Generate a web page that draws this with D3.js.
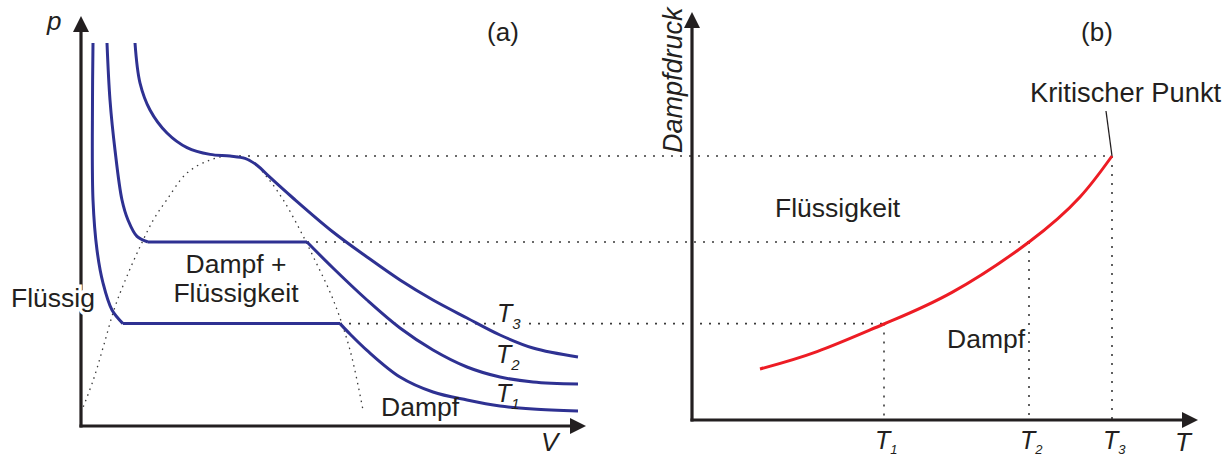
<!DOCTYPE html>
<html>
<head>
<meta charset="utf-8">
<script src="https://cdn.jsdelivr.net/npm/d3@7"></script>
<style>
body { margin: 0; background: #fff; }
text { font-family: "Liberation Sans", Arial, sans-serif; fill: #231f20; }
</style>
</head>
<body>
<svg id="chart" width="1230" height="459"></svg>
<script>
// isotherms in the p-V diagram, [V, p] (arbitrary units 0..100)
const isoT1 = [[2.2, 95.75], [2.1, 81.5], [2.2, 56.5], [3.0, 44], [4.2, 35.75], [6.0, 29], [8.2, 25.6],
    [51.6, 25.6], [53.6, 23], [57, 18.9], [63.6, 12.25], [70.2, 8.5], [77, 6.5], [83.6, 5], [90.2, 4.25], [99.2, 3.75]];
const isoT2 = [[5, 95.75], [5.6, 81.5], [6.6, 69], [8, 56.5], [9.2, 51.5], [11, 47.4], [13.2, 46],
    [45, 46], [50.2, 39.5], [57, 31.5], [63.6, 24.5], [70.2, 19], [77, 14.75], [83.6, 12.25], [90.2, 11], [99.2, 10.5]];
const isoT3 = [[10.6, 95.75], [11.6, 85.75], [13.6, 79], [17, 73.25], [21, 69.6], [25.6, 67.9], [29.6, 67.5],
    [32.6, 66.9], [35, 65.2], [37.4, 62.4], [42.2, 57], [50.2, 48.5], [57, 42.25], [63.6, 36.5], [70.2, 31.5], [77, 27],
    [83.6, 22.75], [90.2, 19.5], [99.2, 17.25]];
// two-phase dome
const dome = [[0.26, 4.8], [2.26, 11.5], [4.26, 19.8], [6.6, 29.8], [8.94, 37.3], [11.6, 44.8], [14.26, 51.5],
    [16.94, 56.5], [20.94, 63.2], [25.6, 66.5], [29.6, 67.5], [33.6, 66.5], [36.94, 62.3], [40.26, 56.5],
    [43.6, 49], [46.26, 42.3], [50.26, 31.5], [53.6, 19], [56.26, 3.6]];

// saturation pressure for T1, T2, T3 and the V where each plateau ends
const satPressure = [25.6, 46, 67.5];
const plateauEnd = [51.6, 45, 29.6];
// temperatures on the right diagram
const tempValues = [38.4, 67.4, 84];
const tempNames = ["1", "2", "3"];
// vapour pressure curve [T, p]
const vaporCurve = [[13.6, 14.25], [25, 18.6], [38.4, 25.5], [52, 33.4], [67.4, 46], [77.6, 57.25], [84, 67.5]];

const svg = d3.select("#chart");
const ink = "#231f20";

const xV = d3.scaleLinear().domain([0, 100]).range([82, 582]);
const xT = d3.scaleLinear().domain([0, 100]).range([692, 1192]);
const yP = d3.scaleLinear().domain([0, 100]).range([426, 26]);
const rightBase = yP(1.5);

const curve = d3.curveCatmullRom.alpha(0.5);
const lineV = d3.line().x(d => xV(d[0])).y(d => yP(d[1])).curve(curve);
const lineT = d3.line().x(d => xT(d[0])).y(d => yP(d[1])).curve(d3.curveNatural);

// dotted guides
const guides = svg.append("g")
    .attr("stroke", "#3a3a3a")
    .attr("stroke-width", 1.6)
    .attr("stroke-dasharray", "2,7")
    .attr("fill", "none");

satPressure.forEach((p, i) => {
    guides.append("line")
        .attr("x1", xV(plateauEnd[i])).attr("x2", xT(tempValues[i]))
        .attr("y1", yP(p)).attr("y2", yP(p));
    guides.append("line")
        .attr("x1", xT(tempValues[i])).attr("x2", xT(tempValues[i]))
        .attr("y1", yP(p)).attr("y2", rightBase);
});

svg.append("path")
    .attr("d", lineV(dome))
    .attr("fill", "none")
    .attr("stroke", "#3a3a3a")
    .attr("stroke-width", 1.3)
    .attr("stroke-dasharray", "1.5,4.5");

// split an isotherm into liquid branch, plateau and vapour branch
function pieces(pts) {
    for (let i = 0; i < pts.length - 1; i++) {
        if (pts[i][1] === pts[i + 1][1]) {
            return [pts.slice(0, i + 1), pts.slice(i, i + 2), pts.slice(i + 1)];
        }
    }
    return [pts];
}

const isoG = svg.append("g")
    .attr("fill", "none")
    .attr("stroke", "#2e3192")
    .attr("stroke-width", 3)
    .attr("stroke-linejoin", "round");

[isoT1, isoT2, isoT3].forEach(iso => {
    const parts = pieces(iso);
    isoG.append("path").attr("d", parts.map(p => lineV(p)).join(""));
});

svg.append("path")
    .attr("d", lineT(vaporCurve))
    .attr("fill", "none")
    .attr("stroke", "#ed1c24")
    .attr("stroke-width", 3);

// leader to critical point
const crit = vaporCurve[vaporCurve.length - 1];
svg.append("line")
    .attr("x1", xT(crit[0]) - 6).attr("y1", 111)
    .attr("x2", xT(crit[0])).attr("y2", yP(crit[1]))
    .attr("stroke", ink).attr("stroke-width", 1.3);

// axes with arrowheads
function axis(x0, y0, x1, y1) {
    const ang = Math.atan2(y1 - y0, x1 - x0);
    const len = 16, half = 8;
    const bx = x1 - len * Math.cos(ang), by = y1 - len * Math.sin(ang);
    svg.append("line")
        .attr("x1", x0).attr("y1", y0).attr("x2", bx + 2 * Math.cos(ang)).attr("y2", by + 2 * Math.sin(ang))
        .attr("stroke", ink).attr("stroke-width", 3.2);
    svg.append("path")
        .attr("d", `M${x1},${y1}L${bx - half * Math.sin(ang)},${by + half * Math.cos(ang)}L${bx + half * Math.sin(ang)},${by - half * Math.cos(ang)}Z`)
        .attr("fill", ink);
}
axis(xV(0) - 1, yP(0) + 1.5, xV(0) - 1, 16);
axis(xV(0) - 2.5, yP(0), 586, yP(0));
axis(xT(0), rightBase + 1.5, xT(0), 12);
axis(xT(0) - 1.5, rightBase, 1198, rightBase);

// labels
function label(x, y, str, opts = {}) {
    const t = svg.append("text")
        .attr("x", x).attr("y", y)
        .attr("font-size", opts.size || 26.5)
        .attr("text-anchor", opts.anchor || "start")
        .text(str);
    if (opts.italic) t.attr("font-style", "italic");
    if (opts.halo) t.attr("stroke", "#fff").attr("stroke-width", 7).attr("paint-order", "stroke");
    if (opts.rotate) t.attr("transform", `rotate(-90,${x},${y})`);
    return t;
}
function tLabel(x, y, sub, halo, size = 25, subSize = 15, dy = 7) {
    const t = svg.append("text")
        .attr("x", x).attr("y", y)
        .attr("font-size", size)
        .attr("font-style", "italic");
    if (halo) t.attr("stroke", "#fff").attr("stroke-width", 6).attr("paint-order", "stroke");
    t.append("tspan").text("T");
    t.append("tspan").attr("font-size", subSize).attr("dy", dy).text(sub);
}

label(47, 30, "p", { italic: true, size: 26 });
label(541, 451, "V", { italic: true, size: 26 });
label(503, 41, "(a)", { anchor: "middle", size: 26 });
label(1097, 41, "(b)", { anchor: "middle", size: 26 });
label(236, 273, "Dampf +", { anchor: "middle" });
label(236, 302, "Flüssigkeit", { anchor: "middle" });
label(11, 307, "Flüssig", { halo: true });
label(381, 416, "Dampf");
label(775, 217, "Flüssigkeit");
label(947, 348, "Dampf");
label(1030, 102, "Kritischer Punkt", { size: 27.3 });
label(682, 153, "Dampfdruck", { italic: true, rotate: true, size: 27 });
label(1175, 451, "T", { italic: true, size: 26 });

tLabel(497, 322, "3", true);
tLabel(496, 363, "2", false);
tLabel(496, 402, "1", false);

tempValues.forEach((t, i) => tLabel(xT(t) - 9, 449, tempNames[i], false, 25, 13, 5));
</script>
</body>
</html>
